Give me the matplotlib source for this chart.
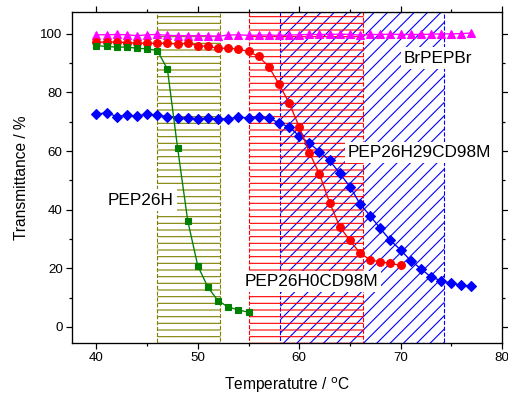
import numpy as np
import matplotlib
matplotlib.use("Agg")
import matplotlib.pyplot as plt
from matplotlib.ticker import MultipleLocator

plt.rcParams['font.family'] = ['Liberation Sans', 'DejaVu Sans']
plt.rcParams['hatch.linewidth'] = 1.0

# ── Data ────────────────────────────────────────────────────────────────────
temp_br = np.arange(40, 78)
trans_br = [99.7, 99.7, 99.8, 99.7, 99.4, 99.7, 99.8, 99.5, 99.4, 99.4,
            99.4, 99.4, 99.2, 99.6, 99.7, 99.5, 99.6, 99.6, 99.5, 99.6,
            99.7, 99.8, 99.8, 99.8, 99.9, 99.8, 99.6, 99.8, 99.8, 99.9,
            99.8, 99.8, 99.8, 99.9, 100.0, 100.0, 100.1, 100.3]

temp_h = np.arange(40, 56)
trans_h = [96.0, 95.7, 95.5, 95.5, 95.1, 94.9, 94.3, 88.0, 61.2, 36.3,
           20.8, 13.5, 8.9, 6.8, 5.8, 5.0]

temp_h0 = np.arange(40, 71)
trans_h0 = [97.2, 97.2, 97.2, 97.0, 96.8, 96.8, 96.8, 96.8, 96.5, 96.8,
            96.0, 95.7, 95.1, 95.1, 94.8, 94.0, 92.3, 88.8, 82.9, 76.5,
            68.3, 59.5, 52.2, 42.4, 34.2, 29.5, 25.2, 22.9, 22.2, 21.7, 21.0]

temp_h29 = np.arange(40, 78)
trans_h29 = [72.6, 73.1, 71.8, 72.2, 72.0, 72.6, 72.2, 71.8, 71.4, 71.2,
             71.1, 71.2, 70.9, 71.1, 71.5, 71.4, 71.6, 71.2, 69.7, 68.2,
             65.2, 62.7, 59.8, 56.8, 52.4, 47.9, 42.0, 37.9, 33.6, 29.5,
             26.3, 22.6, 19.9, 17.0, 15.8, 14.9, 14.2, 13.8]

# transition ranges (start, end)
range_h = (46.0, 52.2)
range_h0 = (55.0, 66.3)
range_h29 = (58.1, 74.3)

# ── Figure ──────────────────────────────────────────────────────────────────
fig = plt.figure(figsize=(508 / 80, 397 / 80), dpi=80)
ax = fig.add_axes([0.142, 0.136, 0.846, 0.834])

ax.axvspan(*range_h29, facecolor='none', edgecolor='blue', hatch='//',
           linestyle='--', linewidth=1.0, zorder=1)
ax.axvspan(*range_h0, facecolor='none', edgecolor='red', hatch='--',
           linestyle='--', linewidth=1.0, zorder=1.1)
ax.axvspan(*range_h, facecolor='none', edgecolor='#808000', hatch='--',
           linestyle='--', linewidth=1.0, zorder=1.2)

# ── Labels ──────────────────────────────────────────────────────────────────
box = dict(facecolor='white', edgecolor='none', pad=3)
ax.text(73.7, 91.7, 'BrPEPBr', fontsize=15.5, ha='center', va='center', bbox=box, zorder=2.5)
ax.text(71.9, 59.5, 'PEP26H29CD98M', fontsize=15.5, ha='center', va='center', bbox=box, zorder=2.5)
ax.text(44.4, 43.3, 'PEP26H', fontsize=15.5, ha='center', va='center', bbox=box, zorder=2.5)
ax.text(61.2, 15.5, 'PEP26H0CD98M', fontsize=15.5, ha='center', va='center', bbox=box, zorder=2.5)

# ── Series ──────────────────────────────────────────────────────────────────
ax.plot(temp_br, trans_br, color='magenta', marker='^', ms=7.5, lw=1.2, zorder=3)
ax.plot(temp_h29, trans_h29, color='blue', marker='D', ms=6.5, lw=1.2, zorder=3)
ax.plot(temp_h0, trans_h0, color='red', marker='o', ms=7, lw=1.2, zorder=3)
ax.plot(temp_h, trans_h, color='green', marker='s', ms=6, lw=1.2, zorder=3)

# ── Styling ─────────────────────────────────────────────────────────────────
ax.set_xlim(37.6, 80)
ax.set_ylim(-5.5, 107.5)
ax.xaxis.set_major_locator(MultipleLocator(10))
ax.xaxis.set_minor_locator(MultipleLocator(5))
ax.yaxis.set_major_locator(MultipleLocator(20))
ax.yaxis.set_minor_locator(MultipleLocator(10))
ax.tick_params(which='both', direction='out', top=True, right=True, labelsize=12, width=1.1)
ax.tick_params(which='major', length=5)
ax.tick_params(which='minor', length=3)
for s in ax.spines.values():
    s.set_linewidth(1.2)

ax.set_xlabel('Temperatutre / $^{\\mathrm{o}}$C', fontsize=14, labelpad=10)
ax.set_ylabel('Transmittance / %', fontsize=14, labelpad=10)

fig.savefig('out.png', dpi=80)
